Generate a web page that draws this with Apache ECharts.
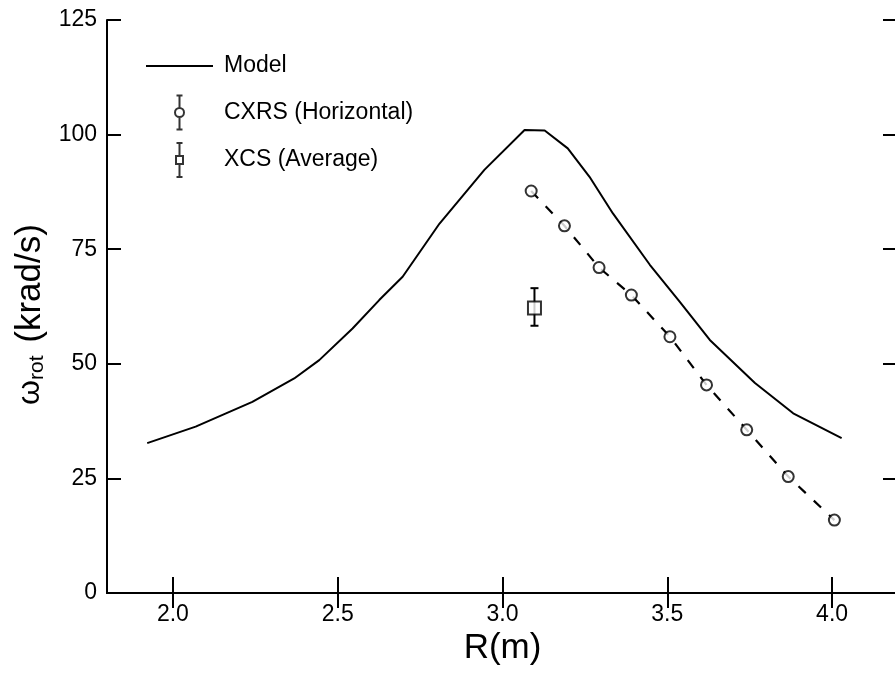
<!DOCTYPE html>
<html><head><meta charset="utf-8">
<script src="https://cdn.jsdelivr.net/npm/echarts@6/dist/echarts.min.js"></script>
<style>html,body{margin:0;padding:0;background:#fff}#c{width:895px;height:673px}</style>
</head><body><div id="c"></div>
<script>
// Model curve
const modelR = [1.922, 2.069, 2.241, 2.368, 2.444, 2.545, 2.626, 2.697, 2.809, 2.945, 3.067, 3.128, 3.198, 3.264, 3.335, 3.447, 3.538, 3.629, 3.766, 3.882, 4.029];
const modelW = [32.7, 36.3, 41.7, 46.8, 50.8, 57.7, 63.9, 69.0, 80.6, 92.3, 101.0, 100.9, 97.0, 90.8, 82.8, 71.6, 63.5, 55.2, 45.8, 39.2, 33.8];
// CXRS (Horizontal)
const cxrsR = [3.087, 3.188, 3.293, 3.391, 3.508, 3.619, 3.741, 3.867, 4.007];
const cxrsW = [87.7, 80.1, 71.0, 65.0, 55.9, 45.4, 35.6, 25.4, 15.9];
// XCS (Average)
const xcsR = [3.097];
const xcsW = [62.2];
const xcsLow = [58.3];
const xcsHigh = [66.5];
// ticks
const xTicks = [2.0, 2.5, 3.0, 3.5, 4.0];
const yTicks = [0, 25, 50, 75, 100, 125];

const FONT = "'Liberation Sans', Arial, Helvetica, sans-serif";
const BLACK = '#000';

const modelIcon = 'path://M0,0 L67,0 L67,2 L0,2 Z';
const cxrsIcon = 'path://M2,0 L8,0 M5,0 L5,12.5 M5,21.5 L5,34 M2,34 L8,34 M5,12.5 A4.5,4.5 0 1 1 5,21.5 A4.5,4.5 0 1 1 5,12.5 Z';
const xcsIcon = 'path://M2,0 L8,0 M5,0 L5,13 M5,21 L5,34 M2,34 L8,34 M1.5,13 L8.5,13 L8.5,21 L1.5,21 Z';

const axisLine = {show: true, lineStyle: {color: BLACK, width: 2}};
const chart = echarts.init(document.getElementById('c'), null, {renderer: 'canvas'});

chart.setOption({
  animation: false,
  backgroundColor: '#fff',
  textStyle: {fontFamily: FONT, color: BLACK},
  grid: {left: 107, right: -3, top: 20, bottom: 80, containLabel: false, outerBoundsMode: 'none'},
  legend: {
    orient: 'vertical', left: 141, top: 44, itemWidth: 67, itemHeight: 34, itemGap: 11.5,
    selectedMode: false,
    textStyle: {fontSize: 23, color: BLACK, fontFamily: FONT, padding: [0, 0, 0, 6], lineHeight: 34},
    data: [
      {name: 'Model', icon: modelIcon, itemStyle: {color: BLACK, borderWidth: 0}},
      {name: 'CXRS (Horizontal)', icon: cxrsIcon, itemStyle: {color: '#fff', borderColor: BLACK, borderWidth: 2}},
      {name: 'XCS (Average)', icon: xcsIcon, itemStyle: {color: '#fff', borderColor: BLACK, borderWidth: 2}}
    ]
  },
  xAxis: [
    {
      type: 'value', min: 1.8, max: 4.2, position: 'bottom',
      axisLine: axisLine,
      axisTick: {show: true, inside: true, length: 16, lineStyle: {color: BLACK, width: 2}, customValues: xTicks},
      axisLabel: {
        color: BLACK, fontSize: 23, margin: 10, fontFamily: FONT, customValues: xTicks,
        formatter: v => v.toFixed(1)
      },
      splitLine: {show: false},
      name: 'R(m)', nameLocation: 'middle', nameGap: 34,
      nameTextStyle: {fontSize: 35, color: BLACK, fontFamily: FONT}
    },
    {
      type: 'value', min: 1.8, max: 4.2, position: 'top',
      axisLine: axisLine,
      axisTick: {show: true, inside: true, length: 15, lineStyle: {color: BLACK, width: 2}, customValues: xTicks},
      axisLabel: {show: false}, splitLine: {show: false}
    }
  ],
  yAxis: [
    {
      type: 'value', min: yTicks[0], max: yTicks[yTicks.length - 1], interval: 25, position: 'left',
      axisLine: axisLine,
      axisTick: {show: true, inside: true, length: 14, lineStyle: {color: BLACK, width: 2}},
      axisLabel: {color: BLACK, fontSize: 23, margin: 10, fontFamily: FONT},
      splitLine: {show: false},
      name: '{w|\u03c9}{s|rot} (krad/s)', nameLocation: 'middle', nameRotate: 90, nameGap: 56,
      nameTextStyle: {
        fontSize: 35, color: BLACK, fontFamily: FONT, padding: [0, 16, 0, 0],
        rich: {
          w: {fontSize: 32, fontFamily: FONT, color: BLACK},
          s: {fontSize: 21, fontFamily: FONT, color: BLACK, verticalAlign: 'bottom', padding: [0, 3, 0, 0]}
        }
      }
    },
    {
      type: 'value', min: yTicks[0], max: yTicks[yTicks.length - 1], interval: 25, position: 'right',
      axisLine: axisLine,
      axisTick: {show: true, inside: true, length: 15, lineStyle: {color: BLACK, width: 2}},
      axisLabel: {show: false}, splitLine: {show: false}
    }
  ],
  series: [
    {
      name: 'Model', type: 'line', symbol: 'none', smooth: false,
      lineStyle: {color: BLACK, width: 2},
      itemStyle: {color: BLACK},
      data: modelR.map((r, i) => [r, modelW[i]]), z: 2
    },
    {
      name: 'CXRS fit', type: 'line', symbol: 'none',
      lineStyle: {color: BLACK, width: 2.2, type: [10, 11]},
      data: cxrsR.map((r, i) => [r, cxrsW[i]]), z: 2
    },
    {
      name: 'CXRS (Horizontal)', type: 'scatter', symbol: 'circle', symbolSize: 11,
      itemStyle: {color: '#fff', borderColor: BLACK, borderWidth: 2},
      data: cxrsR.map((r, i) => [r, cxrsW[i]]), z: 4
    },
    {
      name: 'XCS err', type: 'custom',
      encode: {x: 0, y: [1, 2]},
      renderItem: (params, api) => {
        const x = api.value(0), lo = api.value(1), hi = api.value(2);
        const pLo = api.coord([x, lo]), pHi = api.coord([x, hi]);
        const hw = 4, st = {stroke: BLACK, lineWidth: 2};
        return {type: 'group', children: [
          {type: 'line', shape: {x1: pLo[0], y1: pLo[1], x2: pHi[0], y2: pHi[1]}, style: st},
          {type: 'line', shape: {x1: pLo[0] - hw, y1: pLo[1], x2: pLo[0] + hw, y2: pLo[1]}, style: st},
          {type: 'line', shape: {x1: pHi[0] - hw, y1: pHi[1], x2: pHi[0] + hw, y2: pHi[1]}, style: st}
        ]};
      },
      data: xcsR.map((r, i) => [r, xcsLow[i], xcsHigh[i]]), z: 3
    },
    {
      name: 'XCS (Average)', type: 'scatter', symbol: 'rect', symbolSize: 13,
      itemStyle: {color: '#fff', borderColor: BLACK, borderWidth: 2},
      data: xcsR.map((r, i) => [r, xcsW[i]]), z: 4
    }
  ]
});
</script>
</body></html>
